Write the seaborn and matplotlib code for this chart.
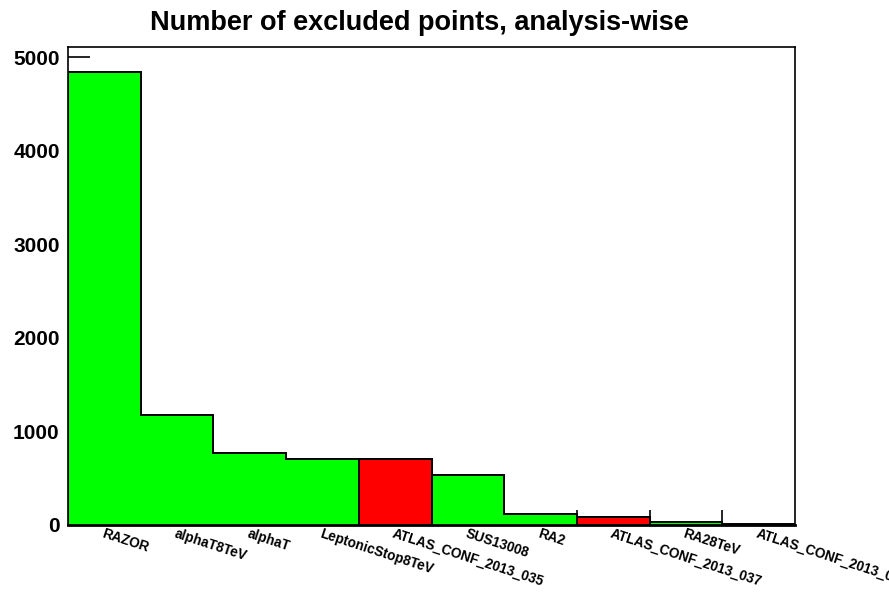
import numpy as np
import matplotlib
matplotlib.use("Agg")
import matplotlib.pyplot as plt
import seaborn as sns

analyses = ["RAZOR", "alphaT8TeV", "alphaT", "LeptonicStop8TeV",
            "ATLAS_CONF_2013_035", "SUS13008", "RA2",
            "ATLAS_CONF_2013_037", "RA28TeV", "ATLAS_CONF_2013_047"]
excluded = [4840, 1175, 769, 705, 705, 537, 121, 82, 35, 8]
bar_colors = ["#00ff00", "#00ff00", "#00ff00", "#00ff00", "#ff0000",
              "#00ff00", "#00ff00", "#ff0000", "#00ff00", "#00ff00"]
y_ticks = [0, 1000, 2000, 3000, 4000, 5000]

sns.set_theme(style="ticks")
plt.rcParams["font.family"] = ["Liberation Sans", "DejaVu Sans"]
plt.rcParams["font.weight"] = "bold"
plt.rcParams["text.color"] = "black"
plt.rcParams["xtick.color"] = "black"
plt.rcParams["ytick.color"] = "black"

fig = plt.figure(figsize=(8.89, 5.94), dpi=100)
ax = fig.add_axes([68 / 889, 69 / 594, (795 - 68) / 889, (525 - 47) / 594])

sns.barplot(x=analyses, y=excluded, hue=analyses, palette=bar_colors,
            width=1.0, linewidth=0, saturation=1, legend=False, ax=ax)

# histogram outline as a step line
edges = np.arange(len(excluded) + 1) - 0.5
ax.stairs(excluded, edges, color="black", linewidth=1.4, zorder=3)

# red bins get a full black outline
for patch, c in zip(ax.patches, bar_colors):
    if c == "#ff0000":
        patch.set_edgecolor("black")
        patch.set_linewidth(1.4)
        patch.set_zorder(2)

ax.set_xlim(-0.5, len(excluded) - 0.5)
ax.set_ylim(0, 5107)
ax.set_yticks(y_ticks)
ax.set_yticklabels([str(v) for v in y_ticks], fontsize=15, fontweight="bold",
                   color="black")
ax.tick_params(axis="y", direction="in", length=16, width=1.2, pad=6, colors="black")

ax.set_xticks(range(len(analyses)))
ax.set_xticklabels(analyses, rotation=-18, ha="left", rotation_mode="anchor",
                   fontsize=9.8, fontweight="bold", color="black")
ax.tick_params(axis="x", which="major", length=0, pad=1)
ax.set_xticks(edges[1:-1], minor=True)
ax.tick_params(axis="x", which="minor", direction="in", length=11, width=1.2, color="black")
ax.set_axisbelow(True)

ax.set_xlabel("")
ax.set_ylabel("")
for s in ax.spines.values():
    s.set_visible(True)
    s.set_color("black")
    s.set_linewidth(1.2)
ax.spines["bottom"].set_linewidth(2.0)
ax.grid(False)

fig.text(419 / 889, 1 - 23 / 594, "Number of excluded points, analysis-wise",
         ha="center", va="center", fontsize=19.5, fontweight="bold", color="black")

fig.savefig("out.png", dpi=100, facecolor="white")
